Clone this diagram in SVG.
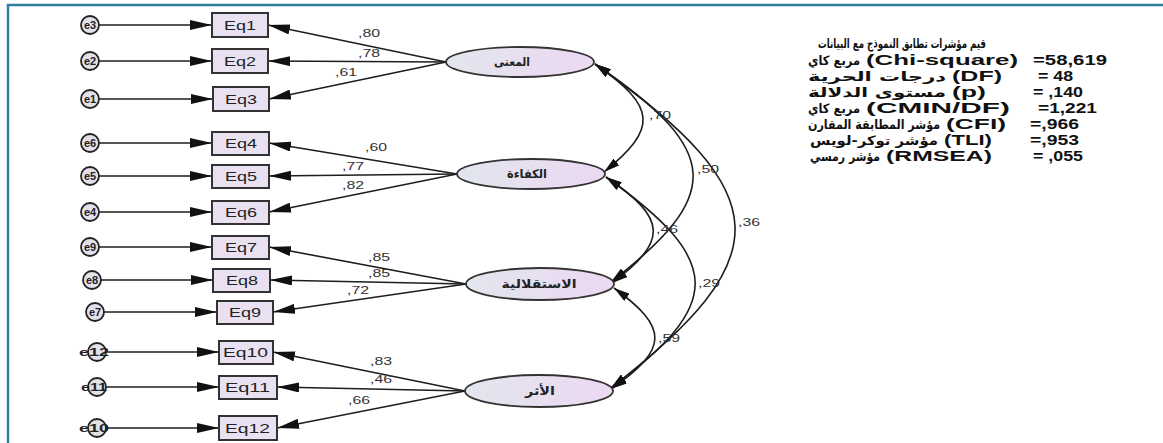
<svg xmlns="http://www.w3.org/2000/svg" width="1163" height="443" viewBox="0 0 1163 443">
<style>
.frame{stroke:#2e7f9c;stroke-width:2.5;fill:none}
.ln{stroke:#1e1e1e;stroke-width:1.6;fill:none}
.box{fill:#e9e1f1;stroke:#333;stroke-width:2}
.err{fill:#e4e0ea;stroke:#222;stroke-width:1.8}
.lat{fill:url(#latg);stroke:#333;stroke-width:1.8}
.eq{font-family:"Liberation Sans",Arial,sans-serif;font-size:13px;fill:#222}
.et{font-family:"Liberation Sans",Arial,sans-serif;font-size:11px;font-weight:bold;fill:#222}
.num{font-family:"Liberation Sans",Arial,sans-serif;font-size:11px;fill:#333;direction:ltr;unicode-bidi:bidi-override}
.ar{font-family:"DejaVu Sans","Noto Sans",sans-serif;font-size:12px;font-weight:bold;fill:#222}
.pn{font-family:"Liberation Sans","DejaVu Sans",sans-serif;font-size:14px;font-weight:bold;fill:#111;direction:ltr;unicode-bidi:bidi-override}
.pa{font-family:"DejaVu Sans","Noto Sans",sans-serif;font-size:13px;font-weight:bold;fill:#111}
</style>
<defs>
<linearGradient id="latg" x1="0" y1="0" x2="1" y2="0">
<stop offset="0" stop-color="#e2e6ee"/>
<stop offset="1" stop-color="#ecd8f2"/>
</linearGradient>
<marker id="ah" markerUnits="userSpaceOnUse" markerWidth="22" markerHeight="10" refX="22" refY="5" orient="auto">
<path d="M0,0 L22,5 L0,10 z" fill="#111"/>
</marker>
<marker id="ch" markerUnits="userSpaceOnUse" markerWidth="16" markerHeight="9" refX="16" refY="4.5" orient="auto-start-reverse">
<path d="M0,0 L16,4.5 L0,9 z" fill="#111"/>
</marker>
</defs>
<rect width="1163" height="443" fill="#fff"/>
<path class="frame" d="M8,443 L8,5 L1163,5"/>

<g id="connectors">
<g id="error-arrows" class="ln" marker-end="url(#ah)">
<line x1="99" y1="25" x2="212" y2="25"/>
<line x1="99" y1="61" x2="212" y2="61"/>
<line x1="99" y1="99" x2="213" y2="99"/>
<line x1="99" y1="143" x2="212" y2="143"/>
<line x1="99" y1="176" x2="212" y2="176"/>
<line x1="99" y1="212" x2="212" y2="212"/>
<line x1="99" y1="247" x2="212" y2="247"/>
<line x1="101" y1="280" x2="213" y2="280"/>
<line x1="104" y1="312" x2="217" y2="312"/>
<line x1="106" y1="352" x2="219" y2="352"/>
<line x1="106" y1="387" x2="219" y2="387"/>
<line x1="106" y1="428" x2="219" y2="428"/>
</g>
<g id="loadings" class="ln" marker-end="url(#ah)">
<line x1="446" y1="62" x2="268" y2="25"/>
<line x1="446" y1="62" x2="268" y2="61"/>
<line x1="446" y1="62" x2="269" y2="99"/>
<line x1="457" y1="174" x2="269" y2="143"/>
<line x1="457" y1="174" x2="269" y2="176"/>
<line x1="457" y1="174" x2="269" y2="212"/>
<line x1="466" y1="284" x2="269" y2="247"/>
<line x1="466" y1="284" x2="270" y2="280"/>
<line x1="466" y1="284" x2="273" y2="312"/>
<line x1="465" y1="391" x2="273" y2="352"/>
<line x1="465" y1="391" x2="277" y2="387"/>
<line x1="465" y1="391" x2="277" y2="428"/>
</g>
<g id="correlations" class="ln" marker-start="url(#ch)" marker-end="url(#ch)">
<path d="M595,64 C657.5,107 657.5,129 604,172"/>
<path d="M595,64 C723,151 723,195 611,282"/>
<path d="M595,64 C779,194 779,258 611,388"/>
<path d="M606,177 C668,219 668,241 612,283"/>
<path d="M606,177 C724,261 724,304 611,388"/>
<path d="M614,288 C669,328 669,349 611,389"/>
</g>
<g id="loading-labels" class="num">
<text x="358" y="37" textLength="22" lengthAdjust="spacingAndGlyphs">,80</text>
<text x="358" y="57" textLength="22" lengthAdjust="spacingAndGlyphs">,78</text>
<text x="335" y="76" textLength="22" lengthAdjust="spacingAndGlyphs">,61</text>
<text x="365" y="151" textLength="22" lengthAdjust="spacingAndGlyphs">,60</text>
<text x="342" y="170" textLength="22" lengthAdjust="spacingAndGlyphs">,77</text>
<text x="342" y="189" textLength="22" lengthAdjust="spacingAndGlyphs">,82</text>
<text x="368" y="261" textLength="22" lengthAdjust="spacingAndGlyphs">,85</text>
<text x="368" y="277" textLength="22" lengthAdjust="spacingAndGlyphs">,85</text>
<text x="347" y="294" textLength="22" lengthAdjust="spacingAndGlyphs">,72</text>
<text x="370" y="365" textLength="22" lengthAdjust="spacingAndGlyphs">,83</text>
<text x="370" y="383" textLength="22" lengthAdjust="spacingAndGlyphs">,46</text>
<text x="348" y="404" textLength="22" lengthAdjust="spacingAndGlyphs">,66</text>
</g>
<g id="correlation-labels" class="num">
<text x="649" y="119" textLength="22" lengthAdjust="spacingAndGlyphs">,70</text>
<text x="697" y="173" textLength="22" lengthAdjust="spacingAndGlyphs">,50</text>
<text x="656" y="233" textLength="22" lengthAdjust="spacingAndGlyphs">,46</text>
<text x="738" y="226" textLength="22" lengthAdjust="spacingAndGlyphs">,36</text>
<text x="698" y="287" textLength="22" lengthAdjust="spacingAndGlyphs">,29</text>
<text x="658" y="342" textLength="22" lengthAdjust="spacingAndGlyphs">,59</text>
</g>
</g>

<g id="e3"><circle class="err" cx="90" cy="25" r="9"/><text class="et" x="90" y="29" text-anchor="middle">e3</text></g>
<g id="e2"><circle class="err" cx="90" cy="61" r="9"/><text class="et" x="90" y="65" text-anchor="middle">e2</text></g>
<g id="e1"><circle class="err" cx="90" cy="99" r="9"/><text class="et" x="90" y="103" text-anchor="middle">e1</text></g>
<g id="e6"><circle class="err" cx="90" cy="143" r="9"/><text class="et" x="90" y="147" text-anchor="middle">e6</text></g>
<g id="e5"><circle class="err" cx="90" cy="176" r="9"/><text class="et" x="90" y="180" text-anchor="middle">e5</text></g>
<g id="e4"><circle class="err" cx="90" cy="212" r="9"/><text class="et" x="90" y="216" text-anchor="middle">e4</text></g>
<g id="e9"><circle class="err" cx="90" cy="247" r="9"/><text class="et" x="90" y="251" text-anchor="middle">e9</text></g>
<g id="e8"><circle class="err" cx="92" cy="280" r="9"/><text class="et" x="92" y="284" text-anchor="middle">e8</text></g>
<g id="e7"><circle class="err" cx="95" cy="312" r="9"/><text class="et" x="95" y="316" text-anchor="middle">e7</text></g>
<g id="e12"><circle class="err" cx="97" cy="352" r="9"/><text class="et" x="94" y="356" text-anchor="middle" textLength="30" lengthAdjust="spacingAndGlyphs">e12</text></g>
<g id="e11"><circle class="err" cx="97" cy="387" r="9"/><text class="et" x="94" y="391" text-anchor="middle" textLength="26" lengthAdjust="spacingAndGlyphs">e11</text></g>
<g id="e10"><circle class="err" cx="97" cy="428" r="9"/><text class="et" x="94" y="432" text-anchor="middle" textLength="30" lengthAdjust="spacingAndGlyphs">e10</text></g>

<g id="Eq1"><rect class="box" x="212" y="13" width="56" height="24"/><text class="eq" x="224" y="30" textLength="32" lengthAdjust="spacingAndGlyphs">Eq1</text></g>
<g id="Eq2"><rect class="box" x="212" y="49" width="56" height="24"/><text class="eq" x="224" y="66" textLength="32" lengthAdjust="spacingAndGlyphs">Eq2</text></g>
<g id="Eq3"><rect class="box" x="213" y="87" width="56" height="24"/><text class="eq" x="225" y="104" textLength="32" lengthAdjust="spacingAndGlyphs">Eq3</text></g>
<g id="Eq4"><rect class="box" x="212" y="132" width="57" height="23"/><text class="eq" x="225" y="148" textLength="32" lengthAdjust="spacingAndGlyphs">Eq4</text></g>
<g id="Eq5"><rect class="box" x="212" y="165" width="57" height="23"/><text class="eq" x="225" y="181" textLength="32" lengthAdjust="spacingAndGlyphs">Eq5</text></g>
<g id="Eq6"><rect class="box" x="212" y="201" width="57" height="23"/><text class="eq" x="225" y="217" textLength="32" lengthAdjust="spacingAndGlyphs">Eq6</text></g>
<g id="Eq7"><rect class="box" x="212" y="236" width="57" height="23"/><text class="eq" x="225" y="252" textLength="32" lengthAdjust="spacingAndGlyphs">Eq7</text></g>
<g id="Eq8"><rect class="box" x="213" y="269" width="57" height="23"/><text class="eq" x="226" y="285" textLength="32" lengthAdjust="spacingAndGlyphs">Eq8</text></g>
<g id="Eq9"><rect class="box" x="217" y="301" width="56" height="23"/><text class="eq" x="229" y="317" textLength="32" lengthAdjust="spacingAndGlyphs">Eq9</text></g>
<g id="Eq10"><rect class="box" x="219" y="341" width="54" height="23"/><text class="eq" x="223" y="357" textLength="45" lengthAdjust="spacingAndGlyphs">Eq10</text></g>
<g id="Eq11"><rect class="box" x="219" y="376" width="58" height="23"/><text class="eq" x="225" y="392" textLength="45" lengthAdjust="spacingAndGlyphs">Eq11</text></g>
<g id="Eq12"><rect class="box" x="219" y="416" width="58" height="24"/><text class="eq" x="225" y="433" textLength="45" lengthAdjust="spacingAndGlyphs">Eq12</text></g>

<g id="f-meaning"><ellipse class="lat" cx="520" cy="62" rx="74" ry="15"/><text class="ar" x="512" y="66" text-anchor="middle" textLength="36" lengthAdjust="spacingAndGlyphs">المعنى</text></g>
<g id="f-competence"><ellipse class="lat" cx="531" cy="174" rx="74" ry="15"/><text class="ar" x="527" y="178" text-anchor="middle" textLength="40" lengthAdjust="spacingAndGlyphs">الكفاءة</text></g>
<g id="f-autonomy"><ellipse class="lat" cx="540" cy="284" rx="74" ry="16"/><text class="ar" x="539" y="288" text-anchor="middle" textLength="75" lengthAdjust="spacingAndGlyphs">الاستقلالية</text></g>
<g id="f-impact"><ellipse class="lat" cx="539" cy="391" rx="74" ry="16"/><text class="ar" x="540" y="395" text-anchor="middle" textLength="30" lengthAdjust="spacingAndGlyphs">الأثر</text></g>

<g id="fit-panel">
<text class="pa" x="818" y="48" textLength="168" lengthAdjust="spacingAndGlyphs">قيم مؤشرات تطابق النموذج مع البيانات</text>
<text class="pa" x="808" y="65" textLength="52" lengthAdjust="spacingAndGlyphs">مربع كاي</text>
<text class="pn" x="866" y="65" textLength="152" lengthAdjust="spacingAndGlyphs">(Chi-square)</text>
<text class="pn" x="1033" y="65" textLength="74" lengthAdjust="spacingAndGlyphs">=58,619</text>
<text class="pa" x="808" y="81" textLength="138" lengthAdjust="spacingAndGlyphs">درجات الحرية</text>
<text class="pn" x="952" y="81" textLength="50" lengthAdjust="spacingAndGlyphs">(DF)</text>
<text class="pn" x="1038" y="81" textLength="35" lengthAdjust="spacingAndGlyphs">= 48</text>
<text class="pa" x="808" y="97" textLength="138" lengthAdjust="spacingAndGlyphs">مستوى الدلالة</text>
<text class="pn" x="952" y="97" textLength="34" lengthAdjust="spacingAndGlyphs">(p)</text>
<text class="pn" x="1033" y="97" textLength="50" lengthAdjust="spacingAndGlyphs">= ,140</text>
<text class="pa" x="808" y="113" textLength="52" lengthAdjust="spacingAndGlyphs">مربع كاي</text>
<text class="pn" x="866" y="113" textLength="144" lengthAdjust="spacingAndGlyphs">(CMIN/DF)</text>
<text class="pn" x="1038" y="113" textLength="59" lengthAdjust="spacingAndGlyphs">=1,221</text>
<text class="pa" x="808" y="129" textLength="132" lengthAdjust="spacingAndGlyphs">مؤشر المطابقة المقارن</text>
<text class="pn" x="946" y="129" textLength="60" lengthAdjust="spacingAndGlyphs">(CFI)</text>
<text class="pn" x="1030" y="129" textLength="49" lengthAdjust="spacingAndGlyphs">=,966</text>
<text class="pa" x="810" y="145" textLength="128" lengthAdjust="spacingAndGlyphs">مؤشر توكر-لويس</text>
<text class="pn" x="944" y="145" textLength="48" lengthAdjust="spacingAndGlyphs">(TLI)</text>
<text class="pn" x="1030" y="145" textLength="49" lengthAdjust="spacingAndGlyphs">=,953</text>
<text class="pa" x="810" y="161" textLength="70" lengthAdjust="spacingAndGlyphs">مؤشر رمسي</text>
<text class="pn" x="886" y="161" textLength="106" lengthAdjust="spacingAndGlyphs">(RMSEA)</text>
<text class="pn" x="1033" y="161" textLength="50" lengthAdjust="spacingAndGlyphs">= ,055</text>
</g>
</svg>
